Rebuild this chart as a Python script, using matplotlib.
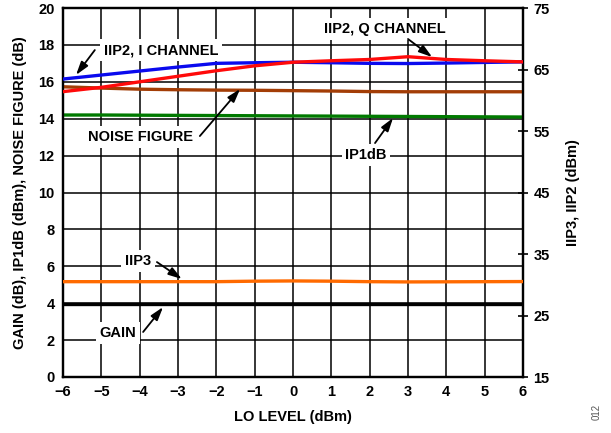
import matplotlib
matplotlib.use("Agg")
import matplotlib.pyplot as plt
import numpy as np

plt.rcParams['font.family'] = ['Liberation Sans', 'DejaVu Sans']
plt.rcParams['axes.unicode_minus'] = True

lo_level = [-6, -5, -4, -3, -2, -1, 0, 1, 2, 3, 4, 5, 6]
x_ticks = [-6, -5, -4, -3, -2, -1, 0, 1, 2, 3, 4, 5, 6]
x_tick_labels = ['\u22126', '\u22125', '\u22124', '\u22123', '\u22122', '\u22121', '0', '1', '2', '3', '4', '5', '6']

# Left axis (dB / dBm)
gain = [3.98, 3.98, 3.98, 3.98, 3.98, 3.98, 3.98, 3.98, 3.98, 3.98, 3.98, 3.98, 3.98]
ip1db = [14.20, 14.20, 14.19, 14.18, 14.17, 14.16, 14.15, 14.14, 14.13, 14.12, 14.11, 14.10, 14.09]
noise_figure = [15.73, 15.66, 15.60, 15.57, 15.55, 15.54, 15.52, 15.50, 15.47, 15.46, 15.46, 15.46, 15.46]

# Right axis (dBm)
iip2_i = [63.45, 64.1, 64.75, 65.4, 66.0, 66.1, 66.18, 66.1, 66.0, 65.97, 66.05, 66.15, 66.24]
iip2_q = [61.4, 62.1, 63.0, 63.9, 64.8, 65.6, 66.18, 66.42, 66.63, 67.08, 66.63, 66.42, 66.24]
iip3 = [30.5, 30.5, 30.5, 30.5, 30.5, 30.58, 30.62, 30.58, 30.5, 30.46, 30.48, 30.5, 30.52]

left_ticks = [0, 2, 4, 6, 8, 10, 12, 14, 16, 18, 20]
right_ticks = [15, 25, 35, 45, 55, 65, 75]

fig = plt.figure(figsize=(6.11, 4.33), dpi=100)
ax = fig.add_axes([63/611, 1-377/433, 460/611, 369/433])
ax2 = ax.twinx()

ax.set_xlim(-6, 6)
ax.set_ylim(0, 20)
ax2.set_ylim(15, 75)

ax.set_xticks(x_ticks)
ax.set_xticklabels(x_tick_labels)
ax.set_yticks(left_ticks)
ax2.set_yticks(right_ticks)

ax.grid(True, color='black', linewidth=1.1)
ax.set_axisbelow(True)
for s in ax.spines.values():
    s.set_linewidth(1.6)
for s in ax2.spines.values():
    s.set_linewidth(1.6)

ax.tick_params(axis='both', length=0, labelsize=10.5, pad=6)
ax2.tick_params(axis='y', direction='inout', length=7, width=1.2, labelsize=10.5, pad=4)
for lbl in ax.get_xticklabels() + ax.get_yticklabels() + ax2.get_yticklabels():
    lbl.set_fontweight('bold')

lw = 2.4
ax.plot(lo_level, gain, color='black', lw=lw, zorder=3)
ax.plot(lo_level, ip1db, color='#007a00', lw=lw, zorder=3)
ax.plot(lo_level, noise_figure, color='#a33d06', lw=lw, zorder=3)
ax2.plot(lo_level, iip3, color='#ff6a00', lw=lw, zorder=3)
ax2.plot(lo_level, iip2_i, color='#0a0aee', lw=lw, zorder=3)
ax2.plot(lo_level, iip2_q, color='#ff0a0a', lw=lw, zorder=3)

ax.set_xlabel('LO LEVEL (dBm)', fontsize=10.5, fontweight='bold', labelpad=8)
ax.set_ylabel('GAIN (dB), IP1dB (dBm), NOISE FIGURE (dB)', fontsize=10.5, fontweight='bold', labelpad=8)
ax2.set_ylabel('IIP3, IIP2 (dBm)', fontsize=10.5, fontweight='bold', labelpad=12)

# annotations (left-axis data coordinates)
ann = [
    ('IIP2, I CHANNEL', (-3.44, 17.72), (-5.17, 17.72), (-5.66, 16.37)),
    ('IIP2, Q CHANNEL', (2.40, 18.86), (3.0, 18.32), (3.63, 17.34)),
    ('NOISE FIGURE', (-3.97, 13.01), (-2.43, 13.06), (-1.38, 15.61)),
    ('IP1dB', (1.90, 12.03), (2.14, 12.68), (2.61, 14.04)),
    ('IIP3', (-4.04, 6.29), (-3.55, 6.23), (-2.90, 5.31)),
    ('GAIN', (-4.57, 2.38), (-3.91, 2.44), (-3.39, 3.79)),
]
for txt, tpos, tail, head in ann:
    ax2.text(tpos[0], tpos[1], txt, transform=ax.transData, ha='center', va='center',
             fontsize=10.5, fontweight='bold', zorder=6,
             bbox=dict(boxstyle='square,pad=0.25', fc='white', ec='none'))
    ax2.annotate('', xy=head, xytext=tail, xycoords=ax.transData, textcoords=ax.transData,
                 arrowprops=dict(arrowstyle='-|>,head_length=0.8,head_width=0.25', color='black',
                                 lw=1.3, shrinkA=0, shrinkB=0), zorder=7)

fig.text(597/611, 1-412/433, '012', rotation=90, fontsize=7, color='#555555', ha='center', va='center')

fig.savefig('out.png', dpi=100)
